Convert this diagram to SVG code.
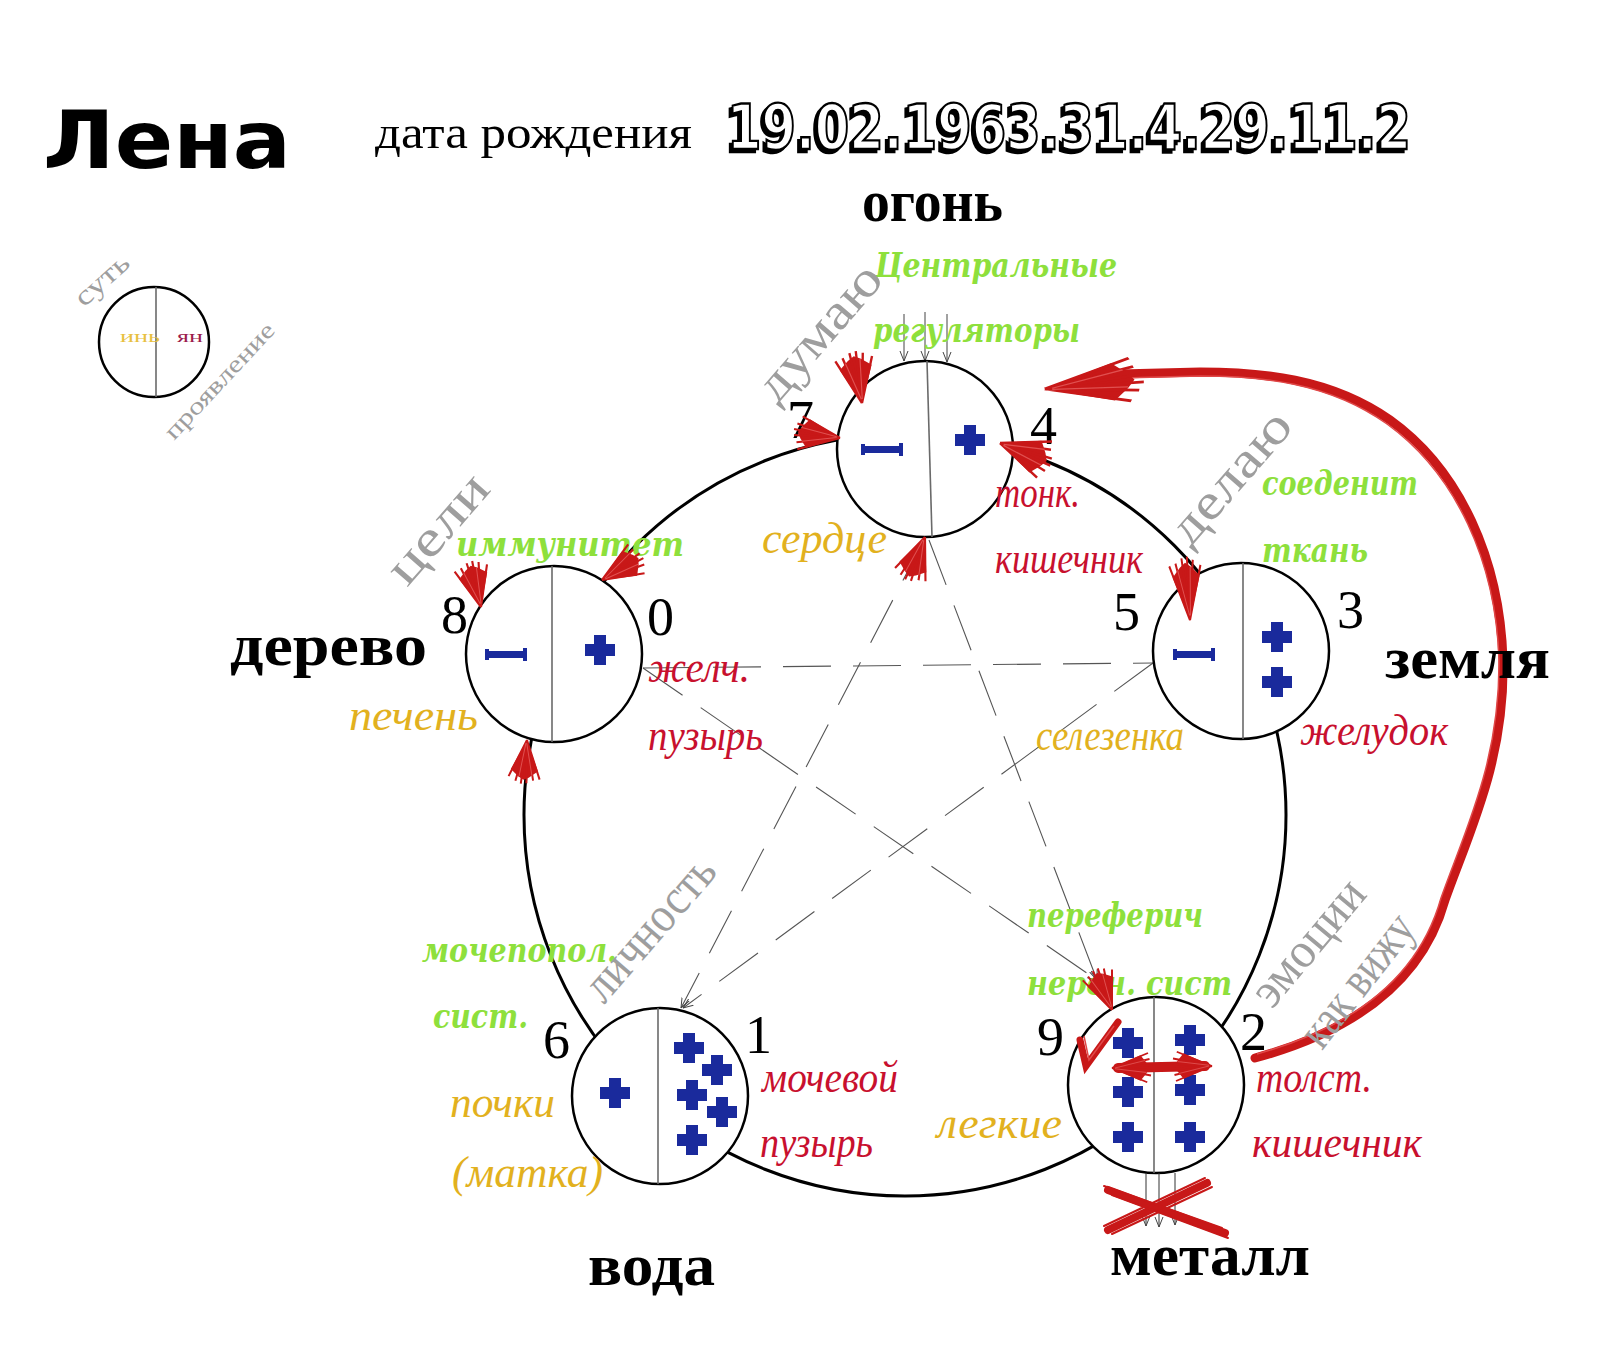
<svg xmlns="http://www.w3.org/2000/svg" width="1600" height="1367" viewBox="0 0 1600 1367">
<style>
.num{font-family:"Liberation Serif",serif;font-size:54px;fill:#000}
.elem{font-family:"Liberation Serif",serif;font-weight:bold;font-size:60px;fill:#000}
.gray{font-family:"Liberation Serif",serif;font-size:50px;fill:#9e9e9e}
.grn{font-family:"DejaVu Serif",serif;font-weight:bold;font-style:italic;font-size:34px;fill:#8ee03c}
.red{font-family:"Liberation Serif",serif;font-style:italic;font-size:44px;fill:#c8102e}
.yel{font-family:"Liberation Serif",serif;font-style:italic;font-size:44px;fill:#e2b11e}
.node{fill:#fff;stroke:#000;stroke-width:2.5}
.div{stroke:#6a6a6a;stroke-width:1.6}
.dash{stroke:#555;stroke-width:1.1;stroke-dasharray:48 22;fill:none}
.blue{fill:#1a2a9c}
.brush{stroke:#c81818;fill:none;stroke-linecap:round}
</style>
<defs>
<filter id="shadow" x="-5%" y="-20%" width="110%" height="140%">
<feOffset in="SourceAlpha" dx="-3" dy="3" result="off"/>
<feMerge><feMergeNode in="off"/><feMergeNode in="SourceGraphic"/></feMerge>
</filter>
<path id="plus" d="M-6,-15 h12 v9 h9 v12 h-9 v9 h-12 v-9 h-9 v-12 h9 z"/>
<path id="minus" d="M0,-6 h4 v2 h34 v-3 h4 v13 h-4 v-3 h-34 v2 h-4 z"/>
<g id="bh">
<path d="M0,0 L38,-17 L46,-7 L50,0 L46,7 L38,17 Z" fill="#c81818"/>
<path d="M0,0 L48,-20 M0,0 L50,-12 M0,0 L54,-4 M2,0 L55,3 M0,0 L52,10 M0,0 L47,19" stroke="#c81818" stroke-width="2.5" fill="none"/>
<path d="M4,0 L44,-10 M4,1 L46,6" stroke="#e05050" stroke-width="1.2" fill="none"/>
</g>
<marker id="arr" viewBox="0 0 10 10" refX="10" refY="5" markerWidth="10" markerHeight="10" orient="auto" markerUnits="userSpaceOnUse">
<path d="M0,1 L10,5 L0,9" fill="none" stroke="#444" stroke-width="1"/>
</marker>
</defs>
<rect width="1600" height="1367" fill="#fff"/>

<g id="title">
<text x="43" y="168" font-family="DejaVu Sans,sans-serif" font-weight="bold" font-size="80" textLength="248" lengthAdjust="spacingAndGlyphs">Лена</text>
<text x="375" y="148" font-family="Liberation Serif,serif" font-size="46" textLength="317" lengthAdjust="spacingAndGlyphs">дата рождения</text>
<text x="727" y="149" font-family="DejaVu Sans,sans-serif" font-weight="bold" font-size="62" textLength="684" lengthAdjust="spacingAndGlyphs" fill="#fff" stroke="#000" stroke-width="2.4" filter="url(#shadow)">19.02.1963.31.4.29.11.2</text>
</g>

<g id="legend">
<circle cx="154" cy="342" r="55" fill="#fff" stroke="#000" stroke-width="2.5"/>
<line x1="156" y1="287" x2="156" y2="397" class="div"/>
<text x="120" y="342" font-family="Liberation Serif,serif" font-size="17" fill="#e8c040" textLength="40" lengthAdjust="spacingAndGlyphs">инь</text>
<text x="177" y="342" font-family="Liberation Serif,serif" font-size="17" fill="#9c1c4c" textLength="26" lengthAdjust="spacingAndGlyphs">ян</text>
<text transform="translate(84,308) rotate(-42)" font-family="Liberation Serif,serif" font-size="28" fill="#9e9e9e" textLength="64" lengthAdjust="spacingAndGlyphs">суть</text>
<text transform="translate(174,441) rotate(-47)" font-family="Liberation Serif,serif" font-size="24" fill="#9e9e9e" textLength="150" lengthAdjust="spacingAndGlyphs">проявление</text>
</g>

<g id="connectors">
<circle cx="905" cy="815" r="381" fill="none" stroke="#000" stroke-width="3"/>
<line x1="925" y1="538" x2="681" y2="1008" class="dash" marker-end="url(#arr)"/>
<line x1="929" y1="540" x2="1097" y2="980" class="dash" marker-end="url(#arr)"/>
<line x1="643" y1="668" x2="1153" y2="663" class="dash"/>
<line x1="1153" y1="663" x2="683" y2="1008" class="dash" marker-end="url(#arr)"/>
<line x1="643" y1="668" x2="1097" y2="980" class="dash" marker-end="url(#arr)"/>
<g stroke="#444" stroke-width="1">
<line x1="904" y1="314" x2="904" y2="361" marker-end="url(#arr)"/>
<line x1="925" y1="312" x2="925" y2="361" marker-end="url(#arr)"/>
<line x1="947" y1="314" x2="947" y2="362" marker-end="url(#arr)"/>
</g>
<path d="M1255,1058 C1340,1035 1420,990 1445,900 C1470,830 1505,760 1503,660 C1500,560 1460,470 1390,420 C1330,378 1260,372 1200,372 L1120,374" class="brush" stroke-width="9"/>
<path d="M1257,1054 C1340,1031 1416,987 1441,898 C1466,828 1500,760 1499,660 C1496,562 1456,474 1387,424 C1328,382 1260,376 1200,376 L1120,378" fill="none" stroke="#e04848" stroke-width="1.5"/>
<use href="#bh" transform="translate(1045,389) rotate(-6) scale(1.8,1.1)"/>
</g>

<g id="node-fire">
<circle cx="925" cy="449" r="88" class="node"/>
<line x1="927" y1="361" x2="932" y2="537" class="div"/>
<use href="#minus" class="blue" transform="translate(861,450)"/>
<use href="#plus" class="blue" transform="translate(970,440)"/>
<text class="num" x="787" y="438">7</text>
<text class="num" x="1030" y="444">4</text>
<text class="elem" x="862" y="221" textLength="141" lengthAdjust="spacingAndGlyphs">огонь</text>
<text class="grn" x="875" y="277" textLength="242" lengthAdjust="spacingAndGlyphs">Центральные</text>
<text class="grn" x="873" y="342" textLength="207" lengthAdjust="spacingAndGlyphs">регуляторы</text>
<text class="yel" x="762" y="553" textLength="125" lengthAdjust="spacingAndGlyphs">сердце</text>
<text class="red" x="995" y="507" textLength="85" lengthAdjust="spacingAndGlyphs">тонк.</text>
<text class="red" x="995" y="573" textLength="148" lengthAdjust="spacingAndGlyphs">кишечник</text>
<text class="gray" transform="translate(777,405) rotate(-49)" textLength="165" lengthAdjust="spacingAndGlyphs">думаю</text>
</g>

<g id="node-earth">
<circle cx="1241" cy="651" r="88" class="node"/>
<line x1="1243" y1="563" x2="1243" y2="739" class="div"/>
<use href="#minus" class="blue" transform="translate(1173,655)"/>
<use href="#plus" class="blue" transform="translate(1277,637)"/>
<use href="#plus" class="blue" transform="translate(1277,682)"/>
<text class="num" x="1113" y="630">5</text>
<text class="num" x="1337" y="628">3</text>
<text class="elem" x="1385" y="678" textLength="165" lengthAdjust="spacingAndGlyphs">земля</text>
<text class="grn" x="1262" y="495" textLength="156" lengthAdjust="spacingAndGlyphs">соеденит</text>
<text class="grn" x="1262" y="562" textLength="106" lengthAdjust="spacingAndGlyphs">ткань</text>
<text class="red" x="1300" y="745" textLength="148" lengthAdjust="spacingAndGlyphs">желудок</text>
<text class="yel" x="1036" y="750" textLength="148" lengthAdjust="spacingAndGlyphs">селезенка</text>
<text class="gray" transform="translate(1190,548) rotate(-49)" textLength="160" lengthAdjust="spacingAndGlyphs">делаю</text>
</g>

<g id="node-wood">
<circle cx="554" cy="654" r="88" class="node"/>
<line x1="552" y1="566" x2="552" y2="742" class="div"/>
<use href="#minus" class="blue" transform="translate(485,655)"/>
<use href="#plus" class="blue" transform="translate(600,650)"/>
<text class="num" x="441" y="633">8</text>
<text class="num" x="647" y="635">0</text>
<text class="elem" x="230" y="665" textLength="197" lengthAdjust="spacingAndGlyphs">дерево</text>
<text class="grn" x="456" y="556" textLength="228" lengthAdjust="spacingAndGlyphs">иммунитет</text>
<text class="yel" x="349" y="730" textLength="129" lengthAdjust="spacingAndGlyphs">печень</text>
<text class="red" x="648" y="682" textLength="102" lengthAdjust="spacingAndGlyphs">желч.</text>
<text class="red" x="648" y="750" textLength="115" lengthAdjust="spacingAndGlyphs">пузырь</text>
<text class="gray" transform="translate(407,588) rotate(-49)" textLength="130" lengthAdjust="spacingAndGlyphs">цели</text>
</g>

<g id="node-water">
<circle cx="660" cy="1096" r="88" class="node"/>
<line x1="658" y1="1008" x2="658" y2="1184" class="div"/>
<use href="#plus" class="blue" transform="translate(615,1093)"/>
<use href="#plus" class="blue" transform="translate(689,1048)"/>
<use href="#plus" class="blue" transform="translate(717,1070)"/>
<use href="#plus" class="blue" transform="translate(692,1095)"/>
<use href="#plus" class="blue" transform="translate(722,1112)"/>
<use href="#plus" class="blue" transform="translate(692,1140)"/>
<text class="num" x="745" y="1053">1</text>
<text class="num" x="543" y="1058">6</text>
<text class="elem" x="588" y="1285" textLength="127" lengthAdjust="spacingAndGlyphs">вода</text>
<text class="grn" x="422" y="962" textLength="195" lengthAdjust="spacingAndGlyphs">мочепопол.</text>
<text class="grn" x="433" y="1028" textLength="95" lengthAdjust="spacingAndGlyphs">сист.</text>
<text class="yel" x="450" y="1117" textLength="105" lengthAdjust="spacingAndGlyphs">почки</text>
<text class="yel" x="452" y="1187" textLength="151" lengthAdjust="spacingAndGlyphs">(матка)</text>
<text class="red" x="762" y="1092" textLength="136" lengthAdjust="spacingAndGlyphs">мочевой</text>
<text class="red" x="760" y="1157" textLength="113" lengthAdjust="spacingAndGlyphs">пузырь</text>
<text class="gray" font-size="42" transform="translate(604,1005) rotate(-49)" textLength="175" lengthAdjust="spacingAndGlyphs">личность</text>
</g>

<g id="node-metal">
<circle cx="1156" cy="1085" r="88" class="node"/>
<line x1="1154" y1="997" x2="1154" y2="1173" class="div"/>
<g stroke="#333" stroke-width="1">
<line x1="1146" y1="1173" x2="1146" y2="1226" marker-end="url(#arr)"/>
<line x1="1159" y1="1173" x2="1159" y2="1227" marker-end="url(#arr)"/>
<line x1="1175" y1="1173" x2="1175" y2="1225" marker-end="url(#arr)"/>
</g>
<use href="#plus" class="blue" transform="translate(1128,1043)"/>
<use href="#plus" class="blue" transform="translate(1128,1092)"/>
<use href="#plus" class="blue" transform="translate(1128,1137)"/>
<use href="#plus" class="blue" transform="translate(1190,1040)"/>
<use href="#plus" class="blue" transform="translate(1190,1090)"/>
<use href="#plus" class="blue" transform="translate(1190,1137)"/>
<text class="num" x="1037" y="1055">9</text>
<text class="num" x="1240" y="1050">2</text>
<text class="elem" x="1110" y="1275" textLength="200" lengthAdjust="spacingAndGlyphs">металл</text>
<text class="grn" x="1027" y="927" textLength="176" lengthAdjust="spacingAndGlyphs">переферич</text>
<text class="grn" x="1027" y="995" textLength="205" lengthAdjust="spacingAndGlyphs">нервн. сист</text>
<text class="red" x="1256" y="1092" textLength="116" lengthAdjust="spacingAndGlyphs">толст.</text>
<text class="red" x="1252" y="1157" textLength="170" lengthAdjust="spacingAndGlyphs">кишечник</text>
<text class="yel" x="937" y="1138" textLength="125" lengthAdjust="spacingAndGlyphs">легкие</text>
<text class="gray" font-size="42" transform="translate(1272,1010) rotate(-50)" textLength="150" lengthAdjust="spacingAndGlyphs">эмоции</text>
<text class="gray" font-size="38" transform="translate(1322,1051) rotate(-52)" textLength="155" lengthAdjust="spacingAndGlyphs">как вижу</text>
</g>

<g id="marks">
<use href="#bh" transform="translate(840,438) rotate(188) scale(0.85)"/>
<use href="#bh" transform="translate(862,403) rotate(-100) scale(0.95)"/>
<use href="#bh" transform="translate(1000,443) rotate(21) scale(1)"/>
<use href="#bh" transform="translate(925,537) rotate(112) scale(0.85)"/>
<use href="#bh" transform="translate(1190,620) rotate(-95) scale(1.15,0.8)"/>
<use href="#bh" transform="translate(481,607) rotate(-104) scale(0.85)"/>
<use href="#bh" transform="translate(602,580) rotate(-31) scale(0.85)"/>
<use href="#bh" transform="translate(527,740) rotate(95) scale(0.8)"/>
<use href="#bh" transform="translate(1112,1010) rotate(-112) scale(0.8)"/>
<path d="M1080,1040 L1086,1066 L1118,1022" class="brush" stroke-width="7"/>
<path d="M1084,1036 L1089,1060 L1114,1026" stroke="#e04848" stroke-width="1.5" fill="none"/>
<path d="M1118,1068 L1205,1066" class="brush" stroke-width="10"/>
<use href="#bh" transform="translate(1112,1068) rotate(0) scale(0.75)"/>
<use href="#bh" transform="translate(1212,1066) rotate(180) scale(0.75)"/>
<path d="M1108,1190 L1225,1233 M1108,1230 L1207,1183" class="brush" stroke-width="8"/>
<path d="M1104,1186 L1222,1228 M1112,1195 L1228,1238 M1104,1226 L1205,1178 M1112,1234 L1212,1187" class="brush" stroke-width="2"/>
</g>
</svg>
